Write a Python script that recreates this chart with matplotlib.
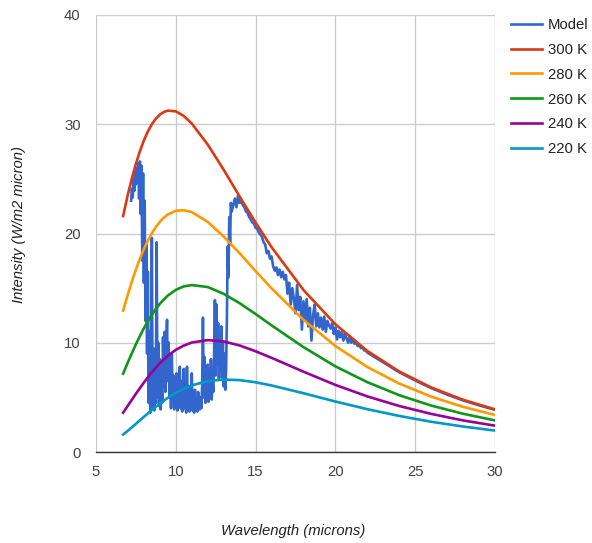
import numpy as np
import matplotlib
matplotlib.use("Agg")
import matplotlib.pyplot as plt

plt.rcParams['font.family'] = ['Liberation Sans', 'DejaVu Sans']

# blackbody curves (W/m2 micron)
wavelength = [6.7, 7, 7.25, 7.5, 7.75, 8, 8.25, 8.5, 8.75, 9, 9.25, 9.5, 10, 10.5, 11,
              12, 13, 14, 15, 16, 18, 20, 22, 24, 26, 28, 30]
t300 = [21.60, 23.59, 25.06, 26.38, 27.53, 28.52, 29.34, 30.01, 30.51, 30.88, 31.12, 31.25,
        31.18, 30.76, 30.07, 28.14, 25.84, 23.38, 21.00, 18.75, 14.83, 11.69, 9.25, 7.37,
        5.91, 4.78, 3.90]
t280 = [12.94, 14.44, 15.62, 16.71, 17.68, 18.57, 19.35, 20.03, 20.60, 21.06, 21.45, 21.74,
        22.08, 22.13, 21.96, 21.06, 19.73, 18.19, 16.56, 14.98, 12.10, 9.70, 7.78, 6.26,
        5.07, 4.13, 3.39]
t260 = [7.17, 8.22, 9.05, 9.86, 10.61, 11.33, 11.97, 12.57, 13.10, 13.56, 13.97, 14.32,
        14.84, 15.16, 15.28, 15.10, 14.48, 13.62, 12.63, 11.59, 9.60, 7.84, 6.39, 5.20,
        4.25, 3.50, 2.89]
# cooler curves are flatter, fewer readings
wavelength_cool = [6.7, 7, 7.5, 8, 8.5, 9, 9.5, 10, 10.5, 11, 12, 13, 14, 15, 16,
                   18, 20, 22, 24, 26, 28, 30]
t240 = [3.60, 4.25, 5.33, 6.36, 7.30, 8.12, 8.81, 9.35, 9.74, 10.02,
        10.24, 10.12, 9.75, 9.22, 8.62, 7.35, 6.14, 5.09, 4.21, 3.49, 2.89, 2.41]
t220 = [1.60, 1.95, 2.58, 3.22, 3.84, 4.43, 4.96, 5.41, 5.79, 6.10,
        6.49, 6.63, 6.58, 6.38, 6.09, 5.38, 4.62, 3.92, 3.30, 2.77, 2.33, 1.96]

# model spectrum: noisy part sampled every 0.05 micron, then 0.1, then 1
model_a = [23.0, 24.1, 23.3, 25.0, 23.9, 25.7, 24.5, 26.0, 24.8, 26.4, 23.2, 26.6, 21.8, 26.2, 17.5, 25.5,
           15.5, 23.0, 12.0, 19.0, 9.0, 16.5, 4.5, 11.0, 3.6, 8.0, 19.6, 4.0, 9.5, 3.8, 7.0, 4.5, 19.2, 5.0, 10.0, 4.2,
           8.5, 3.9, 7.0, 4.5, 10.5, 6.0, 11.0, 5.5, 9.5, 12.1, 6.5, 10.0, 5.0, 8.5, 4.0, 9.0, 5.5, 7.0, 3.9, 6.5,
           4.5, 7.2, 3.8, 6.0, 4.2, 7.8, 4.0, 6.5, 3.7, 5.5, 7.6, 4.0, 6.2, 3.6, 7.8, 4.5, 6.0, 3.7, 5.2, 4.0,
           7.2, 3.8, 5.0, 3.6, 5.7, 4.0, 4.8, 3.7, 5.5, 4.2, 3.9, 5.0, 4.0, 6.0, 12.3, 5.0, 8.7, 4.5, 7.5, 5.0,
           8.0, 4.6, 7.0, 5.2, 8.5, 4.8, 6.5, 5.5, 9.0, 13.9, 7.0, 13.5, 8.0, 11.8, 6.6, 10.5, 7.5, 11.5, 6.8, 10.0,
           6.0, 9.0, 5.7, 7.5, 12.0, 18.8, 16.0, 21.5, 19.0, 22.8, 22.0]
model_b = [22.6, 23.2, 22.4, 23.5,
           22.8, 23.0, 22.6, 22.4, 22.0, 21.9, 21.5, 21.3, 21.0, 20.9,
           20.5, 20.5, 20.1, 19.9, 19.7, 19.2, 19.0, 18.2, 18.4, 17.7,
           17.9, 17.0, 16.6, 16.9, 16.2, 16.7, 16.0, 16.5, 15.8, 16.2,
           14.5, 15.5, 13.5, 15.0, 14.0, 12.7, 15.3, 13.0, 14.2, 11.2,
           13.8, 12.0, 14.0, 11.5, 13.2, 10.2, 12.5, 13.5, 11.5, 12.7,
           11.4, 12.3, 11.2, 12.4, 11.0, 12.0, 11.6, 11.3, 11.8, 10.8,
           11.4, 10.3, 11.1, 10.5, 11.0, 10.2, 10.8, 10.4, 10.0, 10.6,
           10.0, 10.3, 9.9, 10.1, 9.7, 9.8, 9.5, 9.6, 9.3, 9.3,
           9.1]
model_c = [8.2, 7.3, 6.55, 5.85, 5.25, 4.72, 4.27, 3.86]

model_wl = np.concatenate([np.round(np.arange(7.20, 13.51, 0.05), 2),
                           np.round(np.arange(13.6, 22.01, 0.1), 1),
                           np.arange(23, 31, 1)])
model = model_a + model_b + model_c

series = [('Model', model_wl, model, '#3366cc'),
          ('300 K', wavelength, t300, '#dc3912'),
          ('280 K', wavelength, t280, '#ff9900'),
          ('260 K', wavelength, t260, '#109618'),
          ('240 K', wavelength_cool, t240, '#990099'),
          ('220 K', wavelength_cool, t220, '#0099c6')]

fs = 10.7

fig = plt.figure(figsize=(5.92, 5.43), dpi=100)
ax = fig.add_axes([96 / 592, 1 - 452 / 543, 399 / 592, 437 / 543])

for name, x, y, c in series:
    ax.plot(x, y, color=c, lw=1.9, label=name, solid_joinstyle='round')

ax.set_xlim(5, 30)
ax.set_ylim(0, 40)
ax.set_xticks([5, 10, 15, 20, 25, 30])
ax.set_yticks([0, 10, 20, 30, 40])
ax.grid(True, color='#cccccc', lw=1)
ax.set_axisbelow(True)
for s in ['top', 'right', 'left']:
    ax.spines[s].set_visible(False)
ax.spines['bottom'].set_color('#333333')
ax.spines['bottom'].set_linewidth(1)
ax.tick_params(axis='both', length=0, labelsize=fs, labelcolor='#444444')
ax.tick_params(axis='y', pad=11)
ax.tick_params(axis='x', pad=9)

fig.text(293 / 592, 1 - 531 / 543, 'Wavelength (microns)', ha='center', va='center',
         style='italic', fontsize=fs, color='#222222')
fig.text(19 / 592, 1 - 225 / 543, 'Intensity (W/m2 micron)', ha='center', va='center',
         rotation=90, style='italic', fontsize=fs, color='#222222')

ax.legend(loc='upper left', bbox_to_anchor=(511 / 592, 1 - 18 / 543),
          bbox_transform=fig.transFigure, frameon=False, fontsize=fs,
          handlelength=2.1, handletextpad=0.4, labelspacing=0.73,
          labelcolor='#222222', borderaxespad=0, borderpad=0)

plt.savefig("out.png", dpi=100)
